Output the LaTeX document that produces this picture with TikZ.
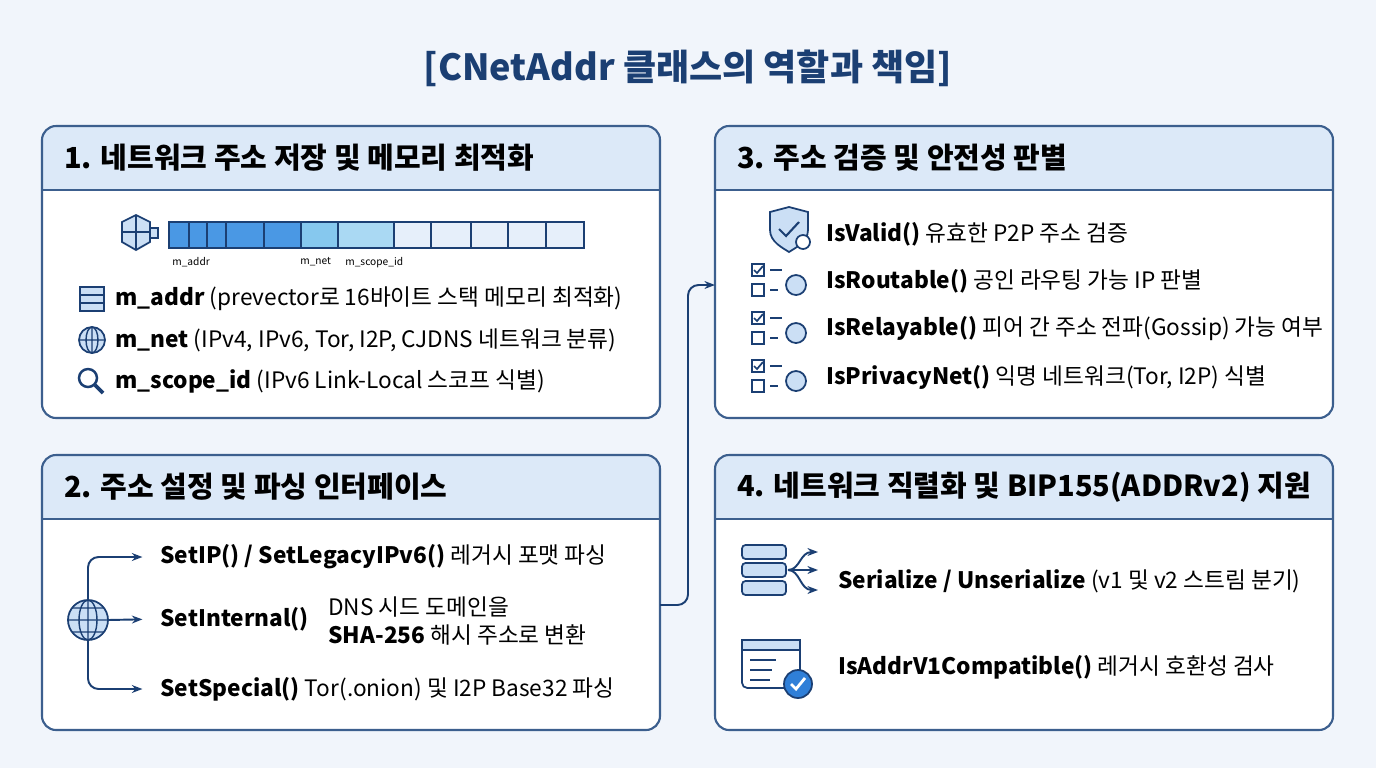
\documentclass[tikz,border=0pt]{standalone}
\usepackage{fontspec}
\setmainfont{Noto Sans CJK KR}
\usetikzlibrary{arrows.meta,positioning}
\definecolor{navy}{HTML}{1B3F73}
\definecolor{edge}{HTML}{3C5F8E}
\definecolor{headbg}{HTML}{DCE9F8}
\definecolor{pagebg}{HTML}{F1F5FB}
\definecolor{iconblue}{HTML}{2F7FD8}
\definecolor{cellA}{HTML}{4A98E4}
\definecolor{cellB}{HTML}{86C8EE}
\definecolor{cellC}{HTML}{E6EFFA}
\tikzset{
  panel/.style={draw=edge, line width=1.2pt, rounded corners=8pt, fill=white},
  head/.style={font=\fontsize{16.5}{19}\selectfont\bfseries, text=black, anchor=west},
  item/.style={font=\fontsize{12.9}{16}\selectfont, text=black, anchor=west, inner sep=0pt},
  small/.style={font=\fontsize{5.8}{7}\selectfont, text=black, anchor=north west, inner sep=0pt},
  icon/.style={draw=navy, line width=1pt, fill=iconblue!25},
  link/.style={-{Stealth[length=6pt]}, draw=navy, line width=1.1pt, rounded corners=6pt}
}
\begin{document}
\begin{tikzpicture}[x=0.02cm,y=-0.02cm]
  \useasboundingbox[fill=pagebg] (0,0) rectangle (1376,768);

  \node[font=\fontsize{20.5}{24}\selectfont\bfseries, text=navy] (title) at (688,68) {[CNetAddr 클래스의 역할과 책임]};

  % panels with header bands
  \foreach \x/\y/\yy in {42/126/418, 42/455/730, 715/126/418, 715/455/730} {
    \begin{scope}
      \clip[rounded corners=8pt] (\x,\y) rectangle (\x+618,\yy);
      \fill[white] (\x,\y) rectangle (\x+618,\yy);
      \fill[headbg] (\x,\y) rectangle (\x+618,\y+64);
    \end{scope}
    \draw[edge, line width=1pt] (\x,\y+64) -- (\x+618,\y+64);
    \draw[panel, fill=none] (\x,\y) rectangle (\x+618,\yy);
  }
  \node[head] (h1) at (58,158) {1. 네트워크 주소 저장 및 메모리 최적화};
  \node[head] (h2) at (58,487) {2. 주소 설정 및 파싱 인터페이스};
  \node[head] (h3) at (731,158) {3. 주소 검증 및 안전성 판별};
  \node[head] (h4) at (731,487) {4. 네트워크 직렬화 및 BIP155(ADDRv2) 지원};

  % panel 1: byte array
  \draw[icon] (122,222) -- (136,215) -- (150,222) -- (150,242) -- (136,250) -- (122,242) -- cycle;
  \draw[navy, line width=0.8pt] (122,232) -- (150,232) (136,215) -- (136,250);
  \draw[icon] (150,228) rectangle (158,238);
  \foreach \a/\b/\c in {169/189/cellA, 189/207/cellA, 207/226/cellA, 226/264/cellA, 264/301/cellA,
                        301/338/cellB, 338/394/cellB!70, 394/431/cellC, 431/471/cellC, 471/508/cellC,
                        508/546/cellC, 546/584/cellC}
    \draw[fill=\c, draw=navy, line width=0.8pt] (\a,222) rectangle (\b,248);
  \node[small] (laddr) at (172,257) {m\_addr};
  \node[small] (lnet) at (300,257) {m\_net};
  \node[small] (lscope) at (345,257) {m\_scope\_id};

  % panel 1: fields
  \draw[icon] (80,287) rectangle (104,311);
  \draw[navy, line width=0.8pt] (80,295) -- (104,295) (80,303) -- (104,303);
  \node[item] (addr) at (115,299) {\textbf{m\_addr} (prevector로 16바이트 스택 메모리 최적화)};
  \draw[icon] (92,340) circle (13);
  \draw[navy, line width=0.8pt] (79,340) -- (105,340) (92,327) -- (92,353) (92,340) ellipse (6 and 13);
  \node[item] (net) at (115,340) {\textbf{m\_net} (IPv4, IPv6, Tor, I2P, CJDNS 네트워크 분류)};
  \draw[navy, line width=1.4pt, fill=white] (88,378) circle (9);
  \draw[navy, line width=2.2pt] (95,385) -- (103,393);
  \node[item] (scope) at (115,381) {\textbf{m\_scope\_id} (IPv6 Link-Local 스코프 식별)};

  % panel 2: setters
  \draw[icon] (88,620) circle (20);
  \draw[navy, line width=0.8pt] (68,620) -- (108,620) (88,600) -- (88,640) (88,620) ellipse (9 and 20)
    (72,608) -- (104,608) (72,632) -- (104,632);
  \coordinate (fork) at (88,600);
  \coordinate (forkb) at (88,640);
  \node[item] (setip) at (160,557) {\textbf{SetIP() / SetLegacyIPv6()} 레거시 포맷 파싱};
  \node[item, align=left] (setint) at (160,619) {\textbf{SetInternal()}};
  \node[item, align=left, anchor=north west] (setintd) at (328,596) {DNS 시드 도메인을\\\textbf{SHA-256} 해시 주소로 변환};
  \node[item] (setspec) at (160,689) {\textbf{SetSpecial()} Tor(.onion) 및 I2P Base32 파싱};
  \draw[link, shorten >=10pt] (fork) |- (setip.west);
  \draw[link, shorten >=10pt] (108,620) -- (setint.west);
  \draw[link, shorten >=10pt] (forkb) |- (setspec.west);

  % connector panel 2 -> panel 3
  \coordinate (p2out) at (660,605);
  \coordinate (p3in) at (715,285);
  \draw[link] (p2out) -- (688,605) -- (688,285) -- (p3in);

  % panel 3: checks
  \draw[icon] (770,212) -- (789,207) -- (808,212) -- (808,230) .. controls (808,242) and (795,248) .. (789,252)
    .. controls (783,248) and (770,242) .. (770,230) -- cycle;
  \draw[navy, line width=1.2pt] (779,229) -- (786,236) -- (799,222);
  \draw[navy, line width=1pt, fill=white] (803,242) circle (7);
  \node[item] (valid) at (826,234) {\textbf{IsValid()} 유효한 P2P 주소 검증};
  \foreach \yc/\nm/\txt in {281/rout/{\textbf{IsRoutable()} 공인 라우팅 가능 IP 판별},
                            329/relay/{\textbf{IsRelayable()} 피어 간 주소 전파(Gossip) 가능 여부},
                            377/priv/{\textbf{IsPrivacyNet()} 익명 네트워크(Tor, I2P) 식별}} {
    \draw[navy, line width=1pt] (752,\yc-17) rectangle (764,\yc-5) (752,\yc+3) rectangle (764,\yc+15);
    \draw[navy, line width=1pt] (754,\yc-11) -- (757,\yc-8) -- (763,\yc-15);
    \draw[navy, line width=1pt] (770,\yc-11) -- (782,\yc-11) (770,\yc+9) -- (778,\yc+9);
    \draw[icon] (796,\yc+4) circle (10);
    \node[item] (\nm) at (826,\yc) {\txt};
  }

  % panel 4: serialisation
  \foreach \yy in {552,570,588}
    \draw[icon, rounded corners=2pt] (742,\yy-7) rectangle (786,\yy+7);
  \coordinate (srv) at (788,570);
  \draw[link] (srv) .. controls (800,570) and (800,552) .. (818,552);
  \draw[link] (srv) -- (818,570);
  \draw[link] (srv) .. controls (800,570) and (800,590) .. (818,590);
  \node[item] (ser) at (838,581) {\textbf{Serialize / Unserialize} (v1 및 v2 스트림 분기)};
  \draw[navy, line width=1pt, fill=white, rounded corners=3pt] (742,640) rectangle (800,688);
  \draw[navy, line width=1pt, fill=iconblue!25] (742,640) rectangle (800,650);
  \draw[navy, line width=1pt] (750,660) -- (776,660) (750,670) -- (772,670) (750,680) -- (770,680);
  \draw[navy, line width=1pt, fill=iconblue] (798,684) circle (14);
  \draw[white, line width=1.6pt] (791,684) -- (796,689) -- (805,678);
  \node[item] (compat) at (838,667) {\textbf{IsAddrV1Compatible()} 레거시 호환성 검사};
\end{tikzpicture}
\end{document}
